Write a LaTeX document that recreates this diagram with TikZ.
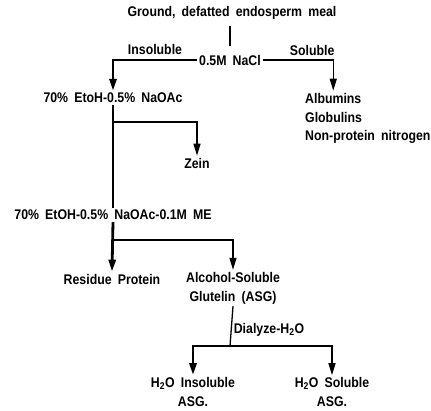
\documentclass[tikz,border=0pt]{standalone}
\usepackage{fontspec}
\setmainfont{Liberation Sans}[FakeStretch=0.88,WordSpace=1.8]
\usepackage{tikz}
\usetikzlibrary{calc,arrows.meta,positioning}
\tikzset{
  lbl/.style={font=\bfseries\fontsize{14}{19}\selectfont,align=center,inner sep=2pt},
  thk/.style={line width=2.8pt},
  thn/.style={line width=1.3pt},
  ar/.style={-{Triangle[length=12pt,width=7pt]}},
  tag/.style={font=\bfseries\fontsize{14}{16}\selectfont,inner sep=2pt}
}

\begin{document}
\begin{tikzpicture}[x=1pt,y=-1pt]
\useasboundingbox (0,0) rectangle (431,410);
\node[lbl] (meal) at (232,13) {Ground, defatted endosperm meal};
\node[lbl] (nacl) at (230,60) {0.5M NaCl};
\node[lbl] (etoh) at (113,98) {70\% EtoH-0.5\% NaOAc};
\node[lbl,anchor=west] (alb) at (303,98) {Albumins};
\node[lbl,anchor=west] (glob) at (303,117) {Globulins};
\node[lbl,anchor=west] (npn) at (303,137) {Non-protein nitrogen};
\node[lbl] (zein) at (197,163) {Zein};
\node[lbl] (me) at (113,215) {70\% EtOH-0.5\% NaOAc-0.1M ME};
\node[lbl] (res) at (112,279) {Residue Protein};
\node[lbl] (asg) at (233,288) {Alcohol-Soluble\\Glutelin (ASG)};
\node[lbl] (ins) at (193,392) {H\textsubscript{2}O Insoluble\\ASG.};
\node[lbl] (sol) at (332,392) {H\textsubscript{2}O Soluble\\ASG.};
\coordinate (b1) at (113,122);
\coordinate (b2) at (113,240);
\coordinate (b3) at (230,346);
\draw[thn] (230,26) -- (230,46);
\draw[thk,ar] (nacl.west) -| node[tag,pos=0.25,above,yshift=2pt] {Insoluble} (etoh.north);
\draw[thn,ar] (nacl.east) -| node[tag,pos=0.35,above,yshift=2pt] {Soluble} (alb.north);
\draw[thk] (etoh.south) -- (me.north);
\draw[thn,ar] (b1) -| (zein.north);
\draw[thk,ar] (me.south) -- (res.north);
\draw[thn,ar] (b2) -| (asg.north);
\draw[thn] (asg.south) -- node[tag,right,pos=0.6] {Dialyze-H\textsubscript{2}O} (b3);
\draw[thk,ar] (b3) -| (ins.north);
\draw[thn,ar] (b3) -| (sol.north);
\end{tikzpicture}
\end{document}
